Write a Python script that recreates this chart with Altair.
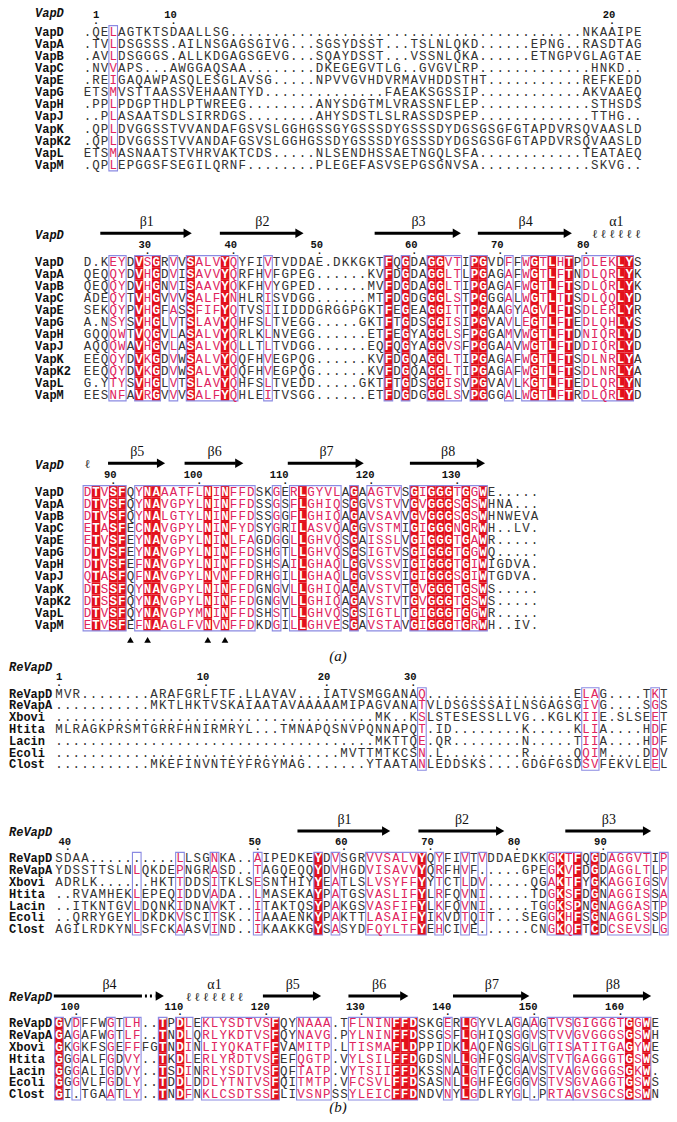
import altair as alt
import pandas as pd

# ---------------- data ----------------
NAMES_A = ["VapD", "VapA", "VapB", "VapC", "VapE", "VapG", "VapH", "VapJ", "VapK", "VapK2", "VapL", "VapM"]
NAMES_B = ["ReVapD", "ReVapA", "Xbovi", "Htita", "Lacin", "Ecoli", "Clost"]

SEQ_A1 = [
    ".QELAGTKTSDAALLSG" ".........." ".........." ".........." ".........." "." "NKAAIPE",
    ".TVLDSGSSS" ".AILNSGAGS" "GIVG...SGS" "YDSST...TS" "LNLQKD...." "..EPNG..RA" "SDTAG",
    ".AVLDSGGGS" ".ALLKDGAGS" "GEVG...SQA" "YDSST...VS" "SNLQKA...." "..ETNGPVGL" "AGTAE",
    ".NVVAPS..." "AWGGAQSAA." ".......DKE" "GEGVTLG..G" "VGVLRP...." ".........H" "NKD..",
    ".REIGAQAWP" "ASQLESGLAV" "SG.....NPV" "VGVHDVRMAV" "HDDSTHT..." "........RE" "FKEDD",
    "ETSMVSTTAA" "SSVEHAANTY" "D........." ".....FAEAK" "SGSSIP...." "........AK" "VAAEQ",
    ".PPLPDGPTH" "DLPTWREEG." ".......ANY" "SDGTMLVRAS" "SNFLEP...." ".........S" "THSDS",
    "..PLASAATS" "DLSIRRDGS." ".......AHY" "SDSTLSLRAS" "SDSPEP...." ".........T" "THG..",
    ".QPLDVGGSS" "TVVANDAFGS" "VSLGGHGSSG" "YGSSSDYGSS" "SDYDGSGSGF" "GTAPDVRSQV" "AASLD",
    ".QPLDVGGSS" "TVVANDAFGS" "VSLGGHGSSD" "YGSSSDYGSS" "SDYDGSGSGF" "GTAPDVRSQV" "AASLD",
    "ETSMASNAAT" "STVHRVAKTC" "DS.....NLS" "ENDHSSAETN" "GQLSFA...." "........TE" "ATAEQ",
    ".QPLEPGGSF" "SEGILQRNF." ".......PLE" "GEFASVSEPG" "SGNVSA...." ".........S" "KVG..",
]
SEQ_A2 = [
    "D.KEYDVSGR" "VVSALVYQYF" "IVTVDDAE.D" "KKGKTFQGDA" "GGVTIPGVDF" "FWGTLHTPDL" "EKLYS",
    "QEQQYDVHGD" "VISAVVYQRF" "HVFGPEG..." "...KVFDGDA" "GGLTLPGAGA" "FWGTLFTNDL" "QRLYK",
    "QEQQYDVHGN" "VISAAVYQKF" "HVYGPED..." "...MVFDGDA" "GGLTIPGAGA" "FWGTLFTSDL" "QRLYK",
    "ADEQYTVHGV" "VVSALFYNHL" "RISVDGG..." "...MTFDGDG" "GGLSTPGGGA" "LWGTLTTSDL" "QQLYD",
    "SEKQYPVHGF" "ASSFIFYQTV" "SIIIDDDGRG" "GPGKTFEGEA" "GGITTPGAAG" "YAGVLFTSDL" "ERLYR",
    "A.NSYSVHGL" "VTSLAVYQHF" "SLTVEGG..." "..GKTFTGDS" "GGISIPGVAV" "LEGTLFTEDL" "QHLYS",
    "GQQQWTVQGV" "LASALVYQRL" "KLNVEGG..." "...ETFEGYA" "GGLSFPGGAM" "VWGTLFTDNI" "QRLYD",
    "AQQQWAVHGV" "LASALVYQLL" "TLTVDGG..." "...EQFQGYA" "GGVSFPGGAA" "VWGTLFTDDI" "QRLYD",
    "EEQQYDVKGD" "VWSALVYQQF" "HVEGPQG..." "...KVFDGQA" "GGLTIPGAGA" "FWGTLFTSDL" "NRLYA",
    "EEQQYDVKGD" "VWSALVYQQF" "HVEGPQG..." "...KVFDGQA" "GGLTIPGAGA" "FWGTLFTSDL" "NRLYA",
    "G.YTYSVHGL" "VTSLAVYQHF" "SLTVEDD..." "..GKTFTGDS" "GGISVPGVAV" "LKGTLFTEDL" "QRLYN",
    "EESNFAVRGV" "VVSALFYQHL" "EITVSGG..." "...ETFDGDG" "GGLSVPGGGA" "LWGTLFTRDL" "QRLYD",
]
SEQ_A3 = [
    "DTVSFQYNAA" "ATFLNINFFD" "SKGERLGYVL" "AGAAGTVSGI" "GGGTGGWE.." "...",
    "DTVSFQYNAV" "GPYLNINFFD" "SSGSFLGHIQ" "SGGVSTVVGV" "GGGSGSWHNA" "...",
    "DTVSFQYNAL" "GTYLNINFFD" "SSGGFLGHIQ" "AGAVSAVVGV" "GGGSGSWHNW" "EVA",
    "ETASFECNAV" "GPYLNINFYD" "SYGRILASVQ" "AGGVSTMIGI" "GGGNGRWH.." "LV.",
    "ETVSFEYNAV" "GPYLNINLFA" "GDGGLLGHVQ" "SGAISSLVGI" "GGGTGAWR.." "...",
    "DTVSFEYNAV" "GPYLNINFFD" "SHGTLLGHVQ" "SGSIGTVSGI" "GGGTGGWQ.." "...",
    "DTVSFEFNAV" "GPYLNINFFD" "SHSAILGHAQ" "LGGVSSVIGI" "GGGTGIWIGD" "VA.",
    "QTASFQFNAV" "GPYLNVNFFD" "RHGILLGHAQ" "LGGVSSVIGI" "GGGSGIWTGD" "VA.",
    "DTSSFQYNAV" "GPYLNINFFD" "GNGVLLGHIQ" "AGAVSTVTGV" "GGGTGSWS.." "...",
    "DTSSFQYNAV" "GPYLNINFFD" "GNGVLLGHIQ" "AGAVSTVTGV" "GGGTGSWS.." "...",
    "DTVSFQYNAV" "GPYMNINFFD" "SHSTLLGHVQ" "SGSIGTLTGI" "GGGTGGWR.." "...",
    "ETVSFEFNAA" "GLFVNVNFFD" "KDGILLGHVE" "SGAVSTAVGI" "GGGTGRWH.." "IV.",
]
SEQ_B1 = [
    "MVR......." ".ARAFGRLFT" "F.LLAVAV.." ".IATVSMGGA" "NAQ......." ".........." "ELAG....TK" "T",
    ".........." ".MKTLHKTVS" "KAIAATAVAA" "AAAMIPAGVA" "NATVLDSGSS" "SAILNSGAGS" "GIVG....SG" "S",
    ".........." ".........." ".........." ".......MK." ".KSLSTESES" "SLLVG..KGL" "KIIE.SLSEE" "T",
    "MLRAGKPRSM" "TGRRFHNIRM" "RYL...TMNA" "PQSNVPQNNA" "PQT.ID...." "....K....." "KLIA....HD" "F",
    ".........." ".........." ".........." ".......MKT" "TQE.QR...." "....N....." "TIIA....HD" "F",
    ".........." ".........." ".........." "...MVTTMTK" "CSN.L....." "....R....." "QQIM....DD" "V",
    ".........." ".MKEFINVNT" "EYFRGYMAG." "......YTAA" "TANLEDDSKS" "....GDGFGS" "DSVFEKVLEE" "L",
]
SEQ_B2 = [
    "SDAA......" "....LLSGNK" "A..AIPEDKE" "YDVSGRVVSA" "LVYQYFIVTV" "DDAEDKKGKT" "FQGDAGGVTI" "P",
    "YDSSTTSLNL" "QKDEPNGRAS" "D..TAGQEQQ" "YDVHGDVISA" "VVYQRFHVF." "....GPEGKV" "FDGDAGGLTL" "P",
    "ADRLK....." ".HKTTDDSIT" "KLSESNTHIY" "YEATLSLVSY" "FFYYTCTLDV" ".....QGAKT" "FYGKAGGIGS" "V",
    "..RVAMHEKL" "EPEQIDDVAD" "A..LMASEKA" "YPATGSVASL" "IFYLRFQVNI" ".....TDGKS" "FDGNAGGISS" "A",
    "..ITKNTGVL" "DQNKIDNAVK" "T..ITAKTQS" "YPAKGSVASF" "IFYLKFQVNI" ".....TGGKS" "PNGNAGGAST" "P",
    "..QRRYGEYL" "DKDKVSCITS" "K..IAAAENK" "YPAKTTLASA" "IFYIKVDTQI" "T...SEGGKH" "FSGNAGGLSS" "P",
    "AGILRDKYNL" "SFCKAASVIN" "D..IKAAKKG" "YSASYDFQYL" "TFYEHCIVE." ".....CNGKQ" "FTCDCSEVSL" "G",
]
SEQ_B3 = [
    "GVDFFWGTLH" "..TPDLEKLY" "SDTVSFQYNA" "AA.TFLNINF" "FDSKGERLGY" "VLAGAAGTVS" "GIGGGTGGWE",
    "GAGAFWGTLF" "..TNDLQRLY" "KDTVSFQYNA" "VG.PYLNINF" "FDSSGSFLGH" "IQSGGVSTVV" "GVGGGSGSWH",
    "GKGKFSGEFF" "FGTNDINLIY" "QKATFFVAMI" "TP.LTISMAF" "LDPPIDKLAQ" "FNGSGLGTIS" "ATITGAGYWE",
    "GGGALFGDVY" "..TKDLERLY" "RDTVSFEFQG" "TP.VYLSILF" "FDGDSNLLGH" "FQSGAVSTVT" "GAGGGTGSWS",
    "GGGALIGDVY" "..TSDINRLY" "SDTVSFQFTA" "TP.VYTSIIF" "FDKSSNALGT" "FQCGAVSTVA" "GVGGGSGKW.",
    "GGGVLFGDLY" "..TDDLDDLY" "TNTVSFQITM" "TP.VFCSVLF" "FDSASNLLGH" "FEGGGVSTVS" "GVAGGTGSWS",
    "GI.TGAATLY" "..TNDFNKLC" "SDTSSFLIVS" "NPSSYLEICF" "FDNDVNYLGD" "LRYGL.PRTA" "GVSGCSGSWN",
]

# strictly conserved columns (red background) and similarity boxes (column ranges)
RED_A1 = []
BOX_A1 = [(3, 3)]
RED_A2 = [6, 8, 12, 16, 35, 37, 40, 41, 45, 46, 52, 54, 56, 62, 63]
BOX_A2 = [(3, 4), (6, 8), (10, 10), (12, 17), (21, 21), (35, 35), (37, 37), (40, 43),
          (45, 46), (49, 49), (51, 56), (58, 63)]
RED_A3 = [1, 3, 4, 7, 8, 14, 16, 25, 31, 38, 40, 41, 42, 44, 46]
BOX_A3 = [(0, 4), (6, 19), (22, 22), (24, 29), (31, 31), (33, 36), (38, 46)]
RED_B1 = []
BOX_B1 = [(42, 42), (61, 62), (69, 69)]
RED_B2 = [30, 42, 58, 60, 62]
BOX_B2 = [(9, 9), (14, 14), (18, 18), (23, 23), (30, 30), (32, 32), (36, 42), (44, 44),
          (47, 47), (49, 49), (57, 60), (62, 62), (64, 68), (70, 70)]
RED_B3 = [0, 12, 14, 25, 39, 40, 41, 47, 66, 68]
BOX_B3 = [(0, 0), (2, 2), (6, 6), (8, 9), (12, 12), (14, 15), (17, 25), (28, 31), (34, 41),
          (45, 45), (47, 48), (53, 53), (55, 55), (57, 59), (60, 68)]

# first residue number of the reference sequence in each block
FIRST_NUM = [1, 24, 87, 1, 39, 98]

# secondary structure: (type, label, start column, end column, dotted-from column or None)
SS_A2 = [("E", "β1", 1.5, 12.3, None), ("E", "β2", 15.4, 25.3, None), ("E", "β3", 33.4, 43.6, None),
         ("E", "β4", 45.4, 56.5, None), ("H", "α1", 59, 64, None)]
SS_A3 = [("H", "", 0, 0, None), ("E", "β5", 2.4, 9.2, None), ("E", "β6", 11.3, 18.3, None),
         ("E", "β7", 23.3, 32.3, None), ("E", "β8", 37.5, 46.4, None)]
SS_B2 = [("E", "β1", 27.6, 38.5, None), ("E", "β2", 41.6, 51.7, None), ("E", "β3", 58.6, 68.7, None)]
SS_B3 = [("E", "β4", -0.6, 12.3, 9.6), ("H", "α1", 15, 21, None), ("E", "β5", 23.6, 30.5, None),
         ("E", "β6", 33.5, 40.6, None), ("E", "β7", 45.6, 54.6, None), ("E", "β8", 59.5, 68.7, None)]
TRIANGLES_A3 = [5, 7, 14, 16]

# ---------------- layout ----------------
W, H = 661, 1106
MONO = "Liberation Mono"
SERIF = "Liberation Serif"
RED_BG = "#E3101C"
RED_TXT = "#E0245E"
BLUE = "#8A8AE2"
INK = "#333333"

SEC_A = dict(x0=87.4, dx=8.6, dy=12.1, name_x=35, sl=-40.0, ar=-28.4)
SEC_B = dict(x0=59.0, dx=8.64, dy=11.8, name_x=9, sl=-38.5, ar=-27.3)

BLOCKS = [
    dict(sec=SEC_A, seqs=SEQ_A1, names=NAMES_A, red=RED_A1, box=BOX_A1, ss=[], y0=31.7, first=FIRST_NUM[0]),
    dict(sec=SEC_A, seqs=SEQ_A2, names=NAMES_A, red=RED_A2, box=BOX_A2, ss=SS_A2, y0=261.7, first=FIRST_NUM[1]),
    dict(sec=SEC_A, seqs=SEQ_A3, names=NAMES_A, red=RED_A3, box=BOX_A3, ss=SS_A3, y0=491.7, first=FIRST_NUM[2]),
    dict(sec=SEC_B, seqs=SEQ_B1, names=NAMES_B, red=RED_B1, box=BOX_B1, ss=[], y0=693.6, first=FIRST_NUM[3]),
    dict(sec=SEC_B, seqs=SEQ_B2, names=NAMES_B, red=RED_B2, box=BOX_B2, ss=SS_B2, y0=858.3, first=FIRST_NUM[4]),
    dict(sec=SEC_B, seqs=SEQ_B3, names=NAMES_B, red=RED_B3, box=BOX_B3, ss=SS_B3, y0=1023.3, first=FIRST_NUM[5]),
]

chars, reds, boxes, names, italics, nums, ticks = [], [], [], [], [], [], []
shafts, dotted, heads, sslabels, helix, tri = [], [], [], [], [], []

for bi, b in enumerate(BLOCKS):
    s = b["sec"]
    x0, dx, dy, y0 = s["x0"], s["dx"], s["dy"], b["y0"]
    n = len(b["seqs"])
    boxcols = set()
    for (c1, c2) in b["box"]:
        boxcols.update(range(c1, c2 + 1))
        boxes.append(dict(x=x0 + dx * c1 - dx / 2, x2=x0 + dx * c2 + dx / 2,
                          y=y0 - dy / 2, y2=y0 + dy * (n - 1) + dy / 2))
    for r, seq in enumerate(b["seqs"]):
        y = y0 + dy * r
        names.append(dict(x=s["name_x"], y=y, t=b["names"][r]))
        for c, ch in enumerate(seq):
            x = x0 + dx * c
            if c in b["red"] and ch != ".":
                reds.append(dict(x=x - dx / 2, x2=x + dx / 2, y=y - dy / 2, y2=y + dy / 2))
                chars.append(dict(x=x, y=y, t=ch, k="w"))
            elif c in boxcols and ch != ".":
                chars.append(dict(x=x, y=y, t=ch, k="r"))
            else:
                chars.append(dict(x=x, y=y, t=ch, k="k"))
    # italic reference label
    italics.append(dict(x=s["name_x"], y=max(y0 - 26.7, 12.5), t=b["names"][0]))
    # ruler from the reference (first) sequence
    num = b["first"]
    for c, ch in enumerate(b["seqs"][0]):
        if ch == ".":
            continue
        if num == 1 or num % 10 == 0:
            x = x0 + dx * c
            nums.append(dict(x=x + 3.4, y=y0 - 16.3, t=str(num)))
            ticks.append(dict(x=x, y=y0 - 11.0, t="."))
        num += 1
    # secondary structure
    ya = y0 + s["ar"]
    yl = y0 + s["sl"]
    for (typ, lab, a, e, dfrom) in b["ss"]:
        if typ == "E":
            xa, xe = x0 + dx * a, x0 + dx * e
            if dfrom is None:
                shafts.append(dict(x=xa, x2=xe - 9, y=ya))
            else:
                shafts.append(dict(x=xa, x2=x0 + dx * dfrom, y=ya))
                dotted.append(dict(x=x0 + dx * dfrom + 3, x2=xe - 10, y=ya))
            heads.append(dict(x=xe - 5.5, y=ya))
            sslabels.append(dict(x=(xa + xe) / 2, y=yl, t=lab))
        else:
            for c in range(int(a), int(e) + 1):
                helix.append(dict(x=x0 + dx * c, y=ya + 1, t="ℓ"))
            if lab:
                sslabels.append(dict(x=x0 + dx * (a + e) / 2, y=yl, t=lab))
    if bi == 2:
        tri = [dict(x=x0 + dx * c, y=y0 + dy * (n - 1) + 15) for c in TRIANGLES_A3]

panel_labels = pd.DataFrame([dict(x=338, y=656, t="(a)"), dict(x=338, y=1107, t="(b)")])

XS = alt.Scale(domain=[8, 8 + W], nice=False, zero=False)
YS = alt.Scale(domain=[8, 8 + H], reverse=True, nice=False, zero=False)


def X(f="x"):
    return alt.X(f + ":Q", scale=XS, axis=None)


def Y(f="y"):
    return alt.Y(f + ":Q", scale=YS, axis=None)


cdf = pd.DataFrame(chars)
cdf["color"] = cdf["k"].map({"w": "#FFFFFF", "r": RED_TXT, "k": INK})

layers = [
    alt.Chart(pd.DataFrame(reds)).mark_rect(color=RED_BG, strokeWidth=0).encode(
        x=X(), x2="x2:Q", y=Y(), y2="y2:Q"),
    alt.Chart(pd.DataFrame(boxes)).mark_rect(fillOpacity=0, stroke=BLUE, strokeWidth=1.1).encode(
        x=X(), x2="x2:Q", y=Y(), y2="y2:Q"),
    alt.Chart(cdf[cdf.k != "w"]).mark_text(font=MONO, fontSize=12.5, baseline="middle").encode(
        x=X(), y=Y(), text="t:N", color=alt.Color("color:N", scale=None)),
    alt.Chart(cdf[cdf.k == "w"]).mark_text(font=MONO, fontSize=12.5, fontWeight="bold",
                                           baseline="middle", color="#FFFFFF").encode(
        x=X(), y=Y(), text="t:N"),
    alt.Chart(pd.DataFrame(names)).mark_text(font=MONO, fontSize=12, fontWeight="bold",
                                             align="left", baseline="middle", color="#111111").encode(
        x=X(), y=Y(), text="t:N"),
    alt.Chart(pd.DataFrame(italics)).mark_text(font=MONO, fontSize=12, fontWeight="bold", fontStyle="italic",
                                               align="left", baseline="middle", color="#111111").encode(
        x=X(), y=Y(), text="t:N"),
    alt.Chart(pd.DataFrame(nums)).mark_text(font=MONO, fontSize=10.5, fontWeight="bold",
                                            align="right", baseline="middle", color="#111111").encode(
        x=X(), y=Y(), text="t:N"),
    alt.Chart(pd.DataFrame(ticks)).mark_text(font=MONO, fontSize=10, fontWeight="bold",
                                             baseline="middle", color="#111111").encode(
        x=X(), y=Y(), text="t:N"),
    alt.Chart(pd.DataFrame(shafts)).mark_rule(strokeWidth=3, color="#000000").encode(
        x=X(), x2="x2:Q", y=Y()),
    alt.Chart(pd.DataFrame(dotted)).mark_rule(strokeWidth=3, color="#000000", strokeDash=[2, 3]).encode(
        x=X(), x2="x2:Q", y=Y()),
    alt.Chart(pd.DataFrame(heads)).mark_point(shape="triangle-right", size=90, filled=True,
                                              opacity=1, color="#000000").encode(x=X(), y=Y()),
    alt.Chart(pd.DataFrame(sslabels)).mark_text(font=SERIF, fontSize=14, baseline="middle",
                                                color="#111111").encode(x=X(), y=Y(), text="t:N"),
    alt.Chart(pd.DataFrame(helix)).mark_text(font=SERIF, fontSize=12, baseline="middle",
                                             color="#222222").encode(x=X(), y=Y(), text="t:N"),
    alt.Chart(pd.DataFrame(tri)).mark_point(shape="triangle-up", size=45, filled=True, opacity=1,
                                            color="#000000").encode(x=X(), y=Y()),
    alt.Chart(panel_labels).mark_text(font=SERIF, fontSize=15, fontStyle="italic", baseline="middle",
                                      color="#111111").encode(x=X(), y=Y(), text="t:N"),
]

chart = alt.layer(*layers).properties(
    width=W, height=H, autosize=alt.AutoSizeParams(type="none"), padding=0
).configure_view(stroke=None)

chart.save("out.html", embed_options={"renderer": "svg", "actions": False})
